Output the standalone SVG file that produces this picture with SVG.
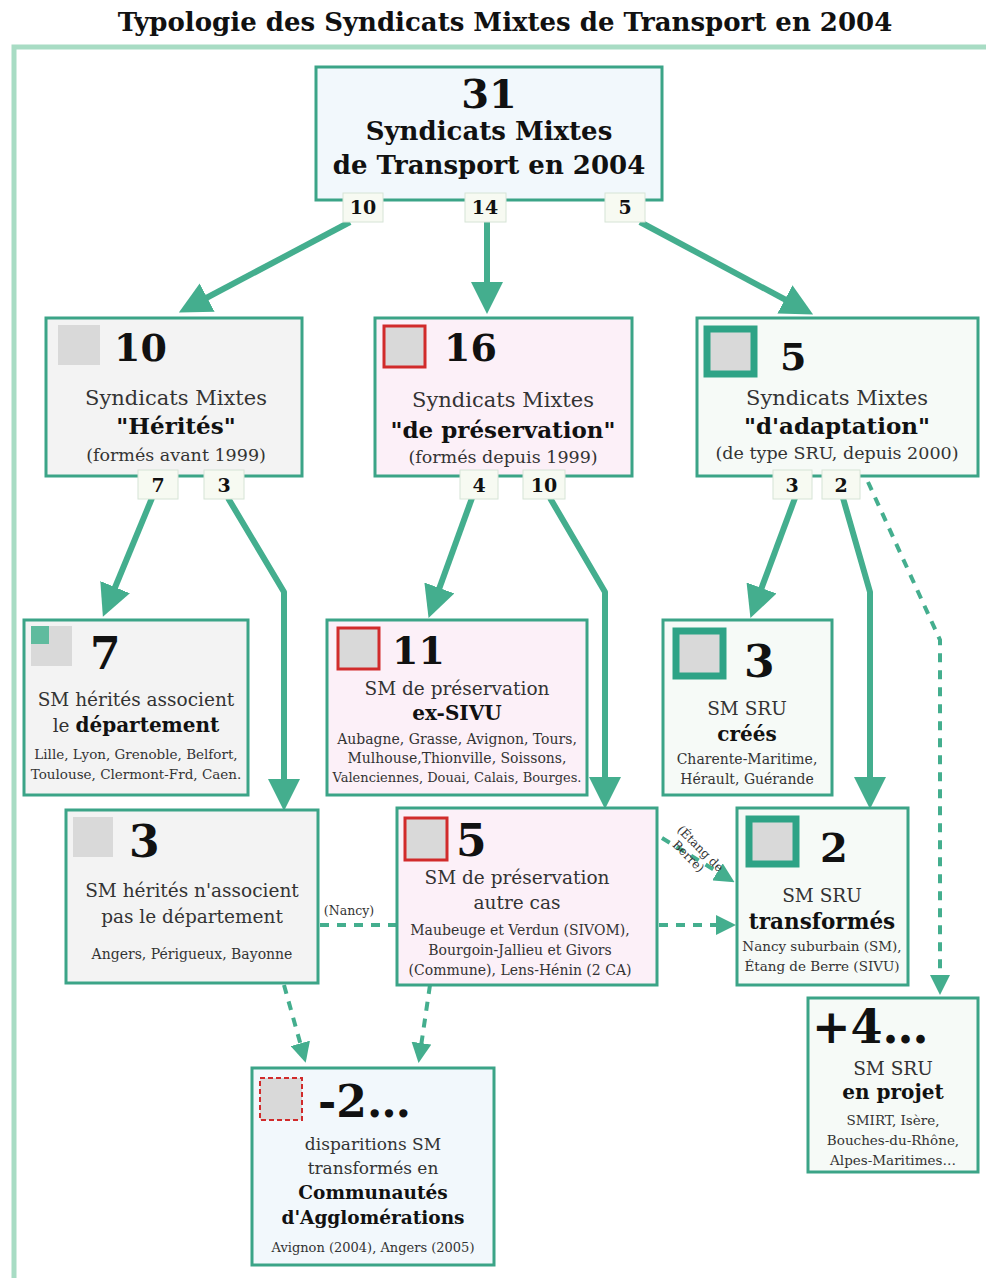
<svg xmlns="http://www.w3.org/2000/svg" width="986" height="1278" viewBox="0 0 986 1278">
<defs>
<style>
text{font-family:"DejaVu Serif","Liberation Serif",serif;fill:#222;text-anchor:middle}
.title{font-size:26px;font-weight:bold;fill:#111}
.num{font-size:38px;font-weight:bold;fill:#111;text-anchor:start}
.b{font-weight:bold;fill:#111}
.t{font-size:18.5px;fill:#333}
.t2{font-size:21px;fill:#333}
.tb{font-size:20px;font-weight:bold;fill:#111}
.tb2{font-size:23px;font-weight:bold;fill:#111}
.s{font-size:17.5px;fill:#333}
.c{font-size:14px;fill:#333}
.lab{font-size:19px;font-weight:bold;fill:#111}
.box{stroke:#3ba487;stroke-width:3}
.gray{fill:#f3f3f3}
.pink{fill:#fcf0f8}
.blue{fill:#f2f8fc}
.green{fill:#f6faf7}
.lb{fill:#f7faf2;stroke:#d6e4d6;stroke-width:1}
.sq{fill:#d9d9d9}
.red{fill:#d9d9d9;stroke:#d12b2b;stroke-width:3}
.teal{fill:#d9d9d9;stroke:#2ea386;stroke-width:7}
.solid{fill:none;stroke:#44ae8e;stroke-width:6;stroke-linejoin:round}
.dash{fill:none;stroke:#44ae8e;stroke-width:4;stroke-dasharray:9 8}
</style>
<marker id="ah" viewBox="0 0 10 10" refX="5" refY="5" markerWidth="32" markerHeight="32" markerUnits="userSpaceOnUse" orient="auto"><path d="M0,0 L10,5 L0,10 z" fill="#44ae8e"/></marker>
<marker id="ahs" viewBox="0 0 10 10" refX="5" refY="5" markerWidth="20" markerHeight="20" markerUnits="userSpaceOnUse" orient="auto"><path d="M0,0 L10,5 L0,10 z" fill="#44ae8e"/></marker>
</defs>
<rect width="986" height="1278" fill="#ffffff"/>
<text class="title" x="505" y="31">Typologie des Syndicats Mixtes de Transport en 2004</text>
<path d="M14,1278 L14,47 L986,47" fill="none" stroke="#a8dcc4" stroke-width="5"/>

<g id="connectors">
<path class="solid" d="M350,222 L193,305" marker-end="url(#ah)"/>
<path class="solid" d="M487,222 L487,298" marker-end="url(#ah)"/>
<path class="solid" d="M640,222 L799,307" marker-end="url(#ah)"/>
<path class="solid" d="M152,498 L109,602" marker-end="url(#ah)"/>
<path class="solid" d="M228,498 L284,592 L284,795" marker-end="url(#ah)"/>
<path class="solid" d="M472,498 L434,603" marker-end="url(#ah)"/>
<path class="solid" d="M550,498 L605,592 L605,793" marker-end="url(#ah)"/>
<path class="solid" d="M795,498 L756,603" marker-end="url(#ah)"/>
<path class="solid" d="M843,498 L870,592 L870,793" marker-end="url(#ah)"/>
<path class="dash" d="M868,482 L940,640 L940,985" marker-end="url(#ahs)"/>
<path class="dash" d="M320,925 L397,925"/>
<text class="c" x="349" y="915" style="font-size:12.5px">(Nancy)</text>
<path class="dash" d="M662,838 L726,877" marker-end="url(#ahs)"/>
<path class="dash" d="M659,925 L726,925" marker-end="url(#ahs)"/>
<text class="c" transform="translate(694,855) rotate(45)" style="font-size:12px"><tspan x="0" y="-5">(Étang de</tspan><tspan x="-3" y="9">Berre)</tspan></text>
<path class="dash" d="M284,985 L303,1053" marker-end="url(#ahs)"/>
<path class="dash" d="M430,985 L420,1053" marker-end="url(#ahs)"/>
</g>

<g id="n31">
<rect class="box blue" x="316" y="67" width="346" height="133"/>
<text class="b" x="489" y="108" style="font-size:40px">31</text>
<text class="tb" x="489" y="140" style="font-size:26px">Syndicats Mixtes</text>
<text class="tb" x="489" y="174" style="font-size:26px">de Transport en 2004</text>
<rect class="lb" x="343" y="193" width="40" height="29"/><text class="lab" x="363" y="214">10</text>
<rect class="lb" x="465" y="193" width="41" height="29"/><text class="lab" x="485" y="214">14</text>
<rect class="lb" x="605" y="193" width="40" height="29"/><text class="lab" x="625" y="214">5</text>
</g>

<g id="n10">
<rect class="box gray" x="46" y="318" width="256" height="158"/>
<rect class="sq" x="58" y="325" width="42" height="40"/>
<text class="num" x="114" y="361">10</text>
<text class="t2" x="176" y="405">Syndicats Mixtes</text>
<text class="tb2" x="176" y="434">"Hérités"</text>
<text class="s" x="176" y="461">(formés avant 1999)</text>
<rect class="lb" x="138" y="470" width="40" height="29"/><text class="lab" x="158" y="492">7</text>
<rect class="lb" x="204" y="470" width="40" height="29"/><text class="lab" x="224" y="492">3</text>
</g>

<g id="n16">
<rect class="box pink" x="375" y="318" width="257" height="158"/>
<rect class="red" x="384" y="326" width="41" height="41"/>
<text class="num" x="444" y="361">16</text>
<text class="t2" x="503" y="407">Syndicats Mixtes</text>
<text class="tb2" x="503" y="438">"de préservation"</text>
<text class="s" x="503" y="463">(formés depuis 1999)</text>
<rect class="lb" x="460" y="470" width="38" height="29"/><text class="lab" x="479" y="492">4</text>
<rect class="lb" x="523" y="470" width="42" height="29"/><text class="lab" x="544" y="492">10</text>
</g>

<g id="n5">
<rect class="box green" x="697" y="318" width="281" height="158"/>
<rect class="teal" x="707" y="329" width="47" height="45"/>
<text class="num" x="780" y="370">5</text>
<text class="t2" x="837" y="405">Syndicats Mixtes</text>
<text class="tb2" x="837" y="434">"d'adaptation"</text>
<text class="s" x="837" y="459">(de type SRU, depuis 2000)</text>
<rect class="lb" x="773" y="470" width="39" height="29"/><text class="lab" x="792" y="492">3</text>
<rect class="lb" x="822" y="470" width="38" height="29"/><text class="lab" x="841" y="492">2</text>
</g>

<g id="n7">
<rect class="box gray" x="24" y="620" width="224" height="175"/>
<rect class="sq" x="31" y="626" width="41" height="40"/>
<rect x="31" y="626" width="18" height="18" fill="#5fbb9e"/>
<text class="num" x="90" y="669" style="font-size:44px">7</text>
<text class="t" x="136" y="706">SM hérités associent</text>
<text class="t" x="136" y="732">le <tspan class="b" style="font-size:20px">département</tspan></text>
<text class="c" x="136" y="759" style="font-size:13.5px">Lille, Lyon, Grenoble, Belfort,</text>
<text class="c" x="136" y="779" style="font-size:13.5px">Toulouse, Clermont-Frd, Caen.</text>
</g>

<g id="n11">
<rect class="box pink" x="327" y="620" width="260" height="175"/>
<rect class="red" x="338" y="628" width="41" height="41"/>
<text class="num" x="392" y="664">11</text>
<text class="t" x="457" y="695">SM  de préservation</text>
<text class="tb" x="457" y="720">ex-SIVU</text>
<text class="c" x="457" y="744">Aubagne, Grasse, Avignon, Tours,</text>
<text class="c" x="457" y="763">Mulhouse,Thionville, Soissons,</text>
<text class="c" x="457" y="782" style="font-size:13px">Valenciennes, Douai, Calais, Bourges.</text>
</g>

<g id="n3sru">
<rect class="box green" x="663" y="620" width="169" height="175"/>
<rect class="teal" x="676" y="631" width="47" height="45"/>
<text class="num" x="744" y="677" style="font-size:44px">3</text>
<text class="t" x="747" y="715">SM SRU</text>
<text class="tb" x="747" y="741">créés</text>
<text class="c" x="747" y="764">Charente-Maritime,</text>
<text class="c" x="747" y="784">Hérault, Guérande</text>
</g>

<g id="n3">
<rect class="box gray" x="66" y="810" width="252" height="173"/>
<rect class="sq" x="73" y="817" width="40" height="40"/>
<text class="num" x="129" y="857" style="font-size:44px">3</text>
<text class="t" x="192" y="897">SM hérités n'associent</text>
<text class="t" x="192" y="923">pas le département</text>
<text class="c" x="192" y="959">Angers, Périgueux, Bayonne</text>
</g>

<g id="n5b">
<rect class="box pink" x="397" y="808" width="260" height="177"/>
<rect class="red" x="405" y="818" width="42" height="42"/>
<text class="num" x="456" y="856" style="font-size:44px">5</text>
<text class="t" x="517" y="884">SM  de préservation</text>
<text class="t" x="517" y="909">autre cas</text>
<text class="c" x="520" y="935">Maubeuge et Verdun (SIVOM),</text>
<text class="c" x="520" y="955">Bourgoin-Jallieu et Givors</text>
<text class="c" x="520" y="975">(Commune), Lens-Hénin (2 CA)</text>
</g>

<g id="n2">
<rect class="box green" x="737" y="808" width="171" height="177"/>
<rect class="teal" x="749" y="819" width="47" height="45"/>
<text class="num" x="820" y="862" style="font-size:40px">2</text>
<text class="t" x="822" y="902">SM SRU</text>
<text class="tb" x="822" y="929" style="font-size:21.5px">transformés</text>
<text class="c" x="822" y="951" style="font-size:13.5px">Nancy suburbain (SM),</text>
<text class="c" x="822" y="971" style="font-size:13.5px">Étang de Berre (SIVU)</text>
</g>

<g id="nm2">
<rect class="box blue" x="252" y="1068" width="242" height="197"/>
<rect x="260" y="1078" width="42" height="42" fill="#d9d9d9" stroke="#d12b2b" stroke-width="2" stroke-dasharray="5 3"/>
<text class="num" x="318" y="1117" style="font-size:44px">-2…</text>
<text class="t" x="373" y="1150" style="font-size:17px">disparitions SM</text>
<text class="t" x="373" y="1174" style="font-size:17px">transformés en</text>
<text class="tb" x="373" y="1199" style="font-size:18.5px">Communautés</text>
<text class="tb" x="373" y="1224" style="font-size:18.5px">d'Agglomérations</text>
<text class="c" x="373" y="1252" style="font-size:13px">Avignon (2004), Angers (2005)</text>
</g>

<g id="np4">
<rect class="box green" x="808" y="998" width="170" height="174"/>
<text class="num" x="812" y="1043" style="font-size:46px">+4…</text>
<text class="t" x="893" y="1075">SM SRU</text>
<text class="tb" x="893" y="1099">en projet</text>
<text class="c" x="893" y="1125" style="font-size:13.5px">SMIRT, Isère,</text>
<text class="c" x="893" y="1145" style="font-size:13.5px">Bouches-du-Rhône,</text>
<text class="c" x="893" y="1165" style="font-size:13.5px">Alpes-Maritimes…</text>
</g>
</svg>
